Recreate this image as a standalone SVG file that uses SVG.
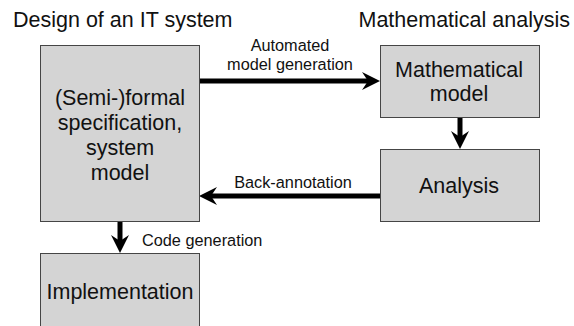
<svg xmlns="http://www.w3.org/2000/svg" width="574" height="326" viewBox="0 0 574 326">
  <defs>
    <style>
      .box { fill: #d4d4d4; stroke: #454545; stroke-width: 1; }
      .title { font-family: "Liberation Sans", Arial, sans-serif; font-size: 21.5px; fill: #111; }
      .label { font-family: "Liberation Sans", Arial, sans-serif; font-size: 21.5px; fill: #111; text-anchor: middle; }
      .small { font-family: "Liberation Sans", Arial, sans-serif; font-size: 16.3px; fill: #111; }
      .conn { stroke: #000; stroke-width: 5; fill: none; marker-end: url(#head); }
    </style>
    <marker id="head" viewBox="0 0 18 18" refX="6" refY="9" markerWidth="18" markerHeight="18" markerUnits="userSpaceOnUse" orient="auto">
      <path d="M0,0 L18,9 L0,18 L6,9 Z" fill="#000"/>
    </marker>
  </defs>

  <!-- column headings -->
  <text class="title" x="13" y="27">Design of an IT system</text>
  <text class="title" x="570" y="27" text-anchor="end">Mathematical analysis</text>

  <!-- connectors -->
  <g id="connectors">
    <line class="conn" x1="199" y1="81" x2="368" y2="81"/>
    <line class="conn" x1="460" y1="117" x2="460" y2="137"/>
    <line class="conn" x1="380" y1="196" x2="211" y2="196"/>
    <line class="conn" x1="120" y1="222" x2="120" y2="241"/>
    <text class="small" x="290" y="51" text-anchor="middle">Automated</text>
    <text class="small" x="290" y="70" text-anchor="middle">model generation</text>
    <text class="small" x="293" y="188" text-anchor="middle">Back-annotation</text>
    <text class="small" x="142" y="246">Code generation</text>
  </g>

  <g id="spec">
    <rect class="box" x="40.5" y="45.5" width="159" height="176"/>
    <text class="label" x="120" y="105">(Semi-)formal</text>
    <text class="label" x="120" y="130">specification,</text>
    <text class="label" x="120" y="155">system</text>
    <text class="label" x="120" y="180">model</text>
  </g>

  <g id="math-model">
    <rect class="box" x="380.5" y="45.5" width="159" height="72"/>
    <text class="label" x="459" y="77">Mathematical</text>
    <text class="label" x="459" y="101">model</text>
  </g>

  <g id="analysis">
    <rect class="box" x="380.5" y="149.5" width="159" height="72"/>
    <text class="label" x="459" y="193">Analysis</text>
  </g>

  <g id="implementation">
    <rect class="box" x="40.5" y="253.5" width="159" height="90"/>
    <text class="label" x="120" y="299">Implementation</text>
  </g>
</svg>
